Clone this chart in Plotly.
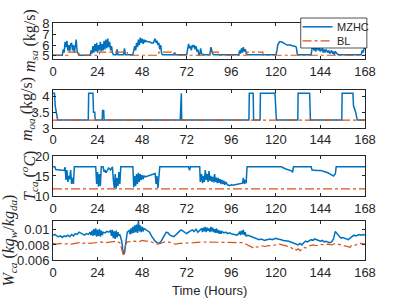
import plotly.graph_objects as go

# ---------------- data ----------------
x_ticks = [0, 24, 48, 72, 96, 120, 144, 168]

msa_mzhc_t = [0, 5, 5.5, 6, 6.5, 7, 7.5, 8, 8.5, 9, 9.5, 10, 10.5, 11, 11.5, 12, 12.5, 13, 13.5, 14,
              20, 20.5, 21, 21.5, 22, 22.5, 23, 23.5, 24, 24.5, 25, 25.5, 26, 26.5, 27, 27.5, 28, 28.5, 29, 29.5,
              30, 30.5, 31, 31.5, 32, 32.5, 34, 34.5, 35, 38, 38.5, 39, 43, 43.5, 44, 44.5, 45, 45.5, 46, 46.5,
              47, 47.5, 48, 48.5, 49, 49.5, 50, 51, 52, 53, 54, 55, 55.5, 56, 56.5, 57, 57.5, 58, 58.5, 59,
              65, 65.5, 66, 72, 72.5, 73, 73.5, 74, 74.5, 75, 75.5, 76, 76.5, 77, 77.5, 78, 78.5, 79, 79.5, 80,
              81, 84.5, 85, 85.5, 86, 86.5, 100, 100.5, 101, 101.5, 102, 102.5, 103, 103.5, 104, 104.5,
              120, 120.5, 121, 122, 123, 124, 125, 126, 127, 128, 129, 130, 131, 131.5, 132,
              139, 139.5, 140, 140.5, 141, 141.5, 142, 143, 143.5, 144, 145, 145.5, 146, 146.5, 147, 148, 148.5,
              149, 150, 150.5, 151, 151.5, 152, 153, 153.5, 166, 166.5, 167, 167.5, 168]
msa_mzhc_v = [5.05, 5.05, 5.6, 5.3, 6.3, 5.8, 6.4, 5.5, 6.0, 5.4, 6.1, 6.2, 5.5, 6.0, 5.3, 6.3, 6.5, 5.4, 5.1, 5.05,
              5.05, 5.5, 5.2, 5.9, 5.3, 6.1, 5.4, 6.2, 5.3, 6.0, 5.5, 6.3, 5.4, 6.1, 5.5, 6.4, 5.6, 6.5, 5.7, 6.6,
              5.8, 6.3, 5.5, 5.9, 5.3, 5.1, 5.1, 5.6, 5.1, 5.1, 5.7, 5.1, 5.1, 5.6, 5.9, 5.5, 6.2, 5.8, 6.5, 6.0,
              6.7, 6.2, 6.6, 6.1, 6.5, 6.3, 6.4, 6.3, 6.3, 6.2, 6.2, 6.6, 6.2, 6.4, 6.0, 6.2, 5.6, 6.0, 5.2, 5.1,
              5.1, 5.3, 5.1, 5.1, 5.6, 6.1, 5.7, 5.9, 5.5, 6.0, 5.8, 6.0, 5.6, 5.9, 5.4, 5.6, 5.1, 5.1, 5.7, 5.2,
              5.1, 5.1, 5.8, 5.3, 5.2, 5.1, 5.1, 5.5, 5.2, 5.7, 5.3, 5.8, 5.4, 5.6, 5.2, 5.1,
              5.1, 5.4, 6.0, 6.3, 6.3, 6.2, 6.1, 6.0, 6.0, 6.0, 5.9, 5.9, 5.8, 5.2, 5.1,
              5.1, 5.7, 5.9, 5.5, 5.8, 5.4, 5.8, 5.5, 5.8, 5.4, 5.7, 5.3, 5.6, 5.3, 5.6, 5.3, 5.5,
              5.2, 5.5, 5.2, 5.4, 5.1, 5.4, 5.2, 5.1, 5.1, 5.5, 5.3, 5.7, 5.7]

msa_bl_t = [0, 8, 14, 25, 40, 57, 65, 84, 89, 104, 113, 168]
msa_bl_v = [5.05, 5.35, 5.05, 5.35, 5.05, 5.35, 5.05, 5.35, 5.05, 5.35, 5.05, 5.05]

moa_mzhc_t = [0, 0.8, 1.2, 2.5, 19, 19.2, 21.5, 21.8, 22.5, 22.7, 26.5, 26.7, 27.3, 27.5, 68.5, 68.7, 69.1, 69.3,
              105.5, 105.7, 107.8, 108, 111.5, 111.7, 119.5, 120.3, 131.8, 132, 138.2, 138.6,
              155.5, 155.7, 161.5, 161.8, 163, 163.8, 168]
moa_mzhc_v = [4.1, 4.1, 3.7, 3.25, 3.25, 4.1, 4.1, 3.5, 3.5, 3.25, 3.25, 3.55, 3.55, 3.25, 3.25, 4.1, 4.1, 3.25,
              3.25, 4.1, 4.1, 3.25, 3.25, 4.1, 4.1, 3.25, 3.25, 4.1, 4.1, 3.25,
              3.25, 4.1, 4.1, 3.7, 3.5, 3.25, 3.25]

moa_bl_t = [0, 168]
moa_bl_v = [3.25, 3.25]

tca_mzhc_t = [0, 1, 1.5, 6, 6.5, 7, 7.5, 8, 8.5, 9, 9.5, 10, 10.5, 11, 11.5, 23, 23.5, 24, 24.5, 25, 25.5, 26,
              27, 27.5, 28, 28.5, 29, 30, 31, 32, 32.5, 33, 33.5, 34, 34.5, 35, 35.5, 36, 36.5, 43, 43.5, 44, 44.5,
              45, 45.5, 46, 46.5, 47, 47.5, 48, 48.5, 49, 50, 51, 52, 53, 54, 55, 55.5, 56, 56.5, 57, 57.5,
              73, 73.5, 74, 79, 79.3, 80, 80.5, 81, 81.5, 82, 82.5, 83, 83.5, 84, 84.5, 85, 85.5, 86, 86.5, 87,
              87.5, 88, 88.5, 89, 89.5, 90, 90.5, 91, 91.5, 92, 92.5, 93, 94, 95, 96, 97, 98, 99, 100, 101, 102,
              102.5, 103, 103.5, 104, 104.5, 123, 125, 127, 128.5, 129, 129.5, 139, 139.5, 142, 144, 146, 148,
              150, 151, 152, 152.5, 168]
tca_mzhc_v = [17.3, 17.3, 16.6, 16.4, 17.2, 14.0, 16.5, 13.5, 15.0, 14.2, 16.5, 13.0, 14.5, 13.0, 17.3, 17.3, 13.0,
              16.0, 12.3, 15.5, 12.5, 17.3, 17.3, 16.0, 16.5, 15.8, 16.2, 17.0, 16.5, 17.3, 14.0, 12.0, 15.5, 11.8,
              14.5, 12.5, 16.0, 13.0, 17.3, 17.3, 12.2, 15.0, 12.5, 15.5, 13.0, 15.8, 13.5, 15.5, 14.0, 15.2, 14.2,
              15.0, 14.8, 15.0, 15.2, 15.3, 15.5, 15.6, 13.0, 15.0, 12.0, 14.5, 17.3,
              17.3, 16.4, 17.3, 17.3, 13.5, 15.5, 13.2, 15.0, 13.5, 16.5, 14.0, 15.5, 13.5, 16.2, 13.8, 15.0, 13.6,
              14.8, 13.4, 15.5, 13.5, 14.6, 13.2, 14.5, 13.3, 14.2, 13.0, 14.0, 13.0, 13.8, 12.8, 13.5, 12.8, 12.6,
              12.8, 12.7, 12.8, 12.9, 13.0, 13.0, 13.2, 14.5, 13.0, 14.0, 13.2, 17.3, 17.3, 16.8, 16.5, 16.3, 15.9,
              17.3, 17.3, 16.5, 16.4, 16.4, 16.1, 15.8, 15.3, 15.0, 15.5, 17.3, 17.3]

tca_bl_t = [0, 168]
tca_bl_v = [11.8, 11.8]

wca_mzhc_t = [0, 1, 2, 3, 4, 5, 6, 7, 8, 9, 10, 11, 12, 13, 14, 15, 16, 17, 18, 19, 20, 20.5, 21, 21.5, 22, 22.5,
              23, 23.5, 24, 24.5, 25, 25.5, 26, 26.5, 27, 28, 29, 30, 31, 31.5, 32, 32.5, 33, 33.5, 34, 34.5, 35,
              35.5, 36, 37, 37.5, 38, 38.5, 39, 39.5, 40, 41, 41.5, 42, 42.5, 43, 43.5, 44, 44.5, 45, 45.5, 46,
              46.5, 47, 47.5, 48, 48.5, 49, 50, 51, 52, 53, 54, 55, 56, 57, 58, 59, 60, 61, 62, 63, 64, 65, 66,
              67, 68, 69, 70, 71, 72, 73, 74, 75, 76, 77, 78, 79, 80, 80.5, 81, 81.5, 82, 82.5, 83, 83.5, 84,
              84.5, 85, 85.5, 86, 86.5, 87, 87.5, 88, 88.5, 89, 89.5, 90, 90.5, 91, 92, 93, 94, 95, 96, 97, 98,
              99, 100, 100.5, 101, 101.5, 102, 102.5, 103, 103.5, 104, 105, 106, 107, 108, 109, 110, 111, 112,
              113, 114, 115, 116, 117, 118, 119, 120, 121, 122, 123, 124, 125, 126, 127, 128, 129, 130, 131, 132,
              133, 134, 135, 136, 137, 138, 139, 140, 141, 142, 143, 144, 145, 146, 147, 148, 149, 150, 151, 152,
              153, 154, 155, 156, 157, 158, 159, 160, 161, 162, 163, 164, 165, 166, 167, 168]
wca_mzhc_v = [0.0093, 0.0094, 0.0092, 0.0091, 0.0092, 0.0090, 0.0092, 0.0091, 0.0093, 0.0091, 0.0094, 0.0092,
              0.0095, 0.0094, 0.0097, 0.0096, 0.0094, 0.0093, 0.0095, 0.0094, 0.0097, 0.0093, 0.0099, 0.0092,
              0.0101, 0.0093, 0.0102, 0.0091, 0.0100, 0.0092, 0.0101, 0.0091, 0.0099, 0.0093, 0.0097, 0.0096,
              0.0098, 0.0097, 0.0099, 0.0092, 0.0100, 0.0089, 0.0098, 0.0088, 0.0099, 0.0090, 0.0097, 0.0092,
              0.0094, 0.0085, 0.0075, 0.0067, 0.0070, 0.0082, 0.0092, 0.0097, 0.0099, 0.0094, 0.0102, 0.0095,
              0.0104, 0.0096, 0.0106, 0.0097, 0.0107, 0.0096, 0.0112, 0.0098, 0.0106, 0.0097, 0.0104, 0.0098,
              0.0102, 0.0100, 0.0099, 0.0097, 0.0092, 0.0088, 0.0085, 0.0083, 0.0082, 0.0084, 0.0089, 0.0094,
              0.0097, 0.0096, 0.0093, 0.0092, 0.0091, 0.0093, 0.0096, 0.0098, 0.0100, 0.0098, 0.0097, 0.0095,
              0.0097, 0.0099, 0.0100, 0.0098, 0.0101, 0.0097, 0.0099, 0.0102, 0.0097, 0.0103, 0.0098, 0.0104,
              0.0097, 0.0103, 0.0099, 0.0102, 0.0097, 0.0104, 0.0098, 0.0103, 0.0097, 0.0101, 0.0096, 0.0102,
              0.0096, 0.0100, 0.0095, 0.0099, 0.0095, 0.0098, 0.0096, 0.0097, 0.0095, 0.0096, 0.0095, 0.0094,
              0.0094, 0.0093, 0.0095, 0.0098, 0.0093, 0.0099, 0.0094, 0.0100, 0.0093, 0.0097, 0.0092, 0.0093,
              0.0092, 0.0091, 0.0090, 0.0089, 0.0087, 0.0087, 0.0088, 0.0087, 0.0086, 0.0087, 0.0088, 0.0088,
              0.0087, 0.0088, 0.0089, 0.0088, 0.0088, 0.0087, 0.0086, 0.0086, 0.0085, 0.0085, 0.0084, 0.0083,
              0.0082, 0.0081, 0.0080, 0.0082, 0.0080, 0.0083, 0.0085, 0.0084, 0.0086, 0.0087, 0.0086, 0.0088,
              0.0087, 0.0086, 0.0085, 0.0086, 0.0084, 0.0085, 0.0084, 0.0083, 0.0084, 0.0088, 0.0098, 0.0095,
              0.0091, 0.0089, 0.0090, 0.0089, 0.0088, 0.0087, 0.0089, 0.0091, 0.0093, 0.0092, 0.0093, 0.0094,
              0.0093, 0.0094, 0.0093]

wca_bl_t = [0, 2, 4, 6, 8, 10, 12, 14, 16, 18, 20, 22, 24, 26, 28, 30, 32, 34, 36, 37, 38, 38.5, 39, 40, 42, 44,
            46, 48, 50, 52, 54, 56, 58, 60, 62, 64, 66, 68, 70, 72, 76, 80, 84, 88, 92, 96, 100, 102, 104, 106,
            108, 109, 110, 112, 114, 116, 118, 120, 122, 124, 126, 128, 129, 130, 131, 132, 133, 134, 135, 136,
            138, 140, 142, 144, 146, 148, 150, 152, 154, 156, 158, 160, 161, 162, 164, 166, 168]
wca_bl_v = [0.0082, 0.0081, 0.0082, 0.0081, 0.0082, 0.0081, 0.0082, 0.0083, 0.0082, 0.0083, 0.0082, 0.0083,
            0.0083, 0.0084, 0.0083, 0.0084, 0.0084, 0.0085, 0.0083, 0.0076, 0.0066, 0.0068, 0.0080, 0.0084,
            0.0085, 0.0085, 0.0084, 0.0086, 0.0085, 0.0085, 0.0083, 0.0081, 0.0082, 0.0084, 0.0084, 0.0082,
            0.0081, 0.0082, 0.0082, 0.0083, 0.0083, 0.0084, 0.0084, 0.0084, 0.0084, 0.0084, 0.0084, 0.0083,
            0.0081, 0.0079, 0.0076, 0.0078, 0.0077, 0.0079, 0.0078, 0.0079, 0.0080, 0.0080, 0.0081, 0.0080,
            0.0079, 0.0077, 0.0075, 0.0076, 0.0073, 0.0075, 0.0072, 0.0075, 0.0077, 0.0076, 0.0079, 0.0080,
            0.0079, 0.0081, 0.0080, 0.0081, 0.0080, 0.0082, 0.0081, 0.0080, 0.0079, 0.0077, 0.0080, 0.0079,
            0.0081, 0.0082, 0.0081]

y_titles = ["<i>m<sub>sa</sub></i> (kg/s)", "<i>m<sub>oa</sub></i> (kg/s)",
            "<i>T<sub>ca</sub></i> (<sup><i>o</i></sup><i>C</i>)",
            "<i>W<sub>ca</sub></i> (<i>kg<sub>w</sub></i>/<i>kg<sub>da</sub></i>)"]
y_tickvals = [[5, 6, 7, 8], [3, 3.5, 4], [10, 15, 20], [0.006, 0.008, 0.01]]
y_ticktext = [["5", "6", "7", "8"], ["3", "3.5", "4"], ["10", "15", "20"], ["0.006", "0.008", "0.01"]]
y_ranges = [[4.7, 8.05], [3, 4.2], [10, 20], [0.006, 0.0112]]
x_title = "Time (Hours)"
names = ["MZHC", "BL"]

# ---------------- figure ----------------
BLUE = "#0072BD"
ORANGE = "#D95319"
AX = "#262626"
SANS = "Liberation Sans, Arial"
SERIF = "Liberation Serif, serif"

domains = [[0.848, 1.0], [0.557, 0.717], [0.270, 0.439], [0.0, 0.165]]
title_x = [-0.0737, -0.0833, -0.0769, -0.141]   # paper x of the rotated y titles
series = [(msa_mzhc_t, msa_mzhc_v, msa_bl_t, msa_bl_v, "hv"),
          (moa_mzhc_t, moa_mzhc_v, moa_bl_t, moa_bl_v, "linear"),
          (tca_mzhc_t, tca_mzhc_v, tca_bl_t, tca_bl_v, "linear"),
          (wca_mzhc_t, wca_mzhc_v, wca_bl_t, wca_bl_v, "linear")]

fig = go.Figure()
for i, (mt, mv, bt, bv, bshape) in enumerate(series):
    k = "" if i == 0 else str(i + 1)
    fig.add_trace(go.Scatter(x=mt, y=mv, mode="lines", name=names[0], showlegend=False,
                             line=dict(color=BLUE, width=1.5), xaxis="x" + k, yaxis="y" + k))
    fig.add_trace(go.Scatter(x=bt, y=bv, mode="lines", name=names[1], showlegend=False,
                             line=dict(color=ORANGE, width=1.2, dash="dashdot", shape=bshape),
                             xaxis="x" + k, yaxis="y" + k))
    axis_common = dict(showline=True, linecolor=AX, linewidth=0.8, mirror="allticks", ticks="inside",
                       ticklen=3, tickcolor=AX, showgrid=False, zeroline=False, automargin=False,
                       tickfont=dict(family=SANS, size=13, color=AX))
    fig.layout["xaxis" + k] = dict(axis_common, domain=[0, 1], range=[0, 168], tickvals=x_ticks,
                                   anchor="y" + k)
    fig.layout["yaxis" + k] = dict(axis_common, domain=domains[i], range=y_ranges[i],
                                   tickvals=y_tickvals[i], ticktext=y_ticktext[i], anchor="x" + k)
    fig.add_annotation(xref="paper", yref="paper", x=title_x[i], y=sum(domains[i]) / 2,
                       text=y_titles[i], textangle=-90, showarrow=False,
                       xanchor="center", yanchor="middle",
                       font=dict(family=SERIF, size=16, color=AX))

fig.add_annotation(xref="paper", yref="paper", x=0.5, y=-0.127, text=x_title, showarrow=False,
                   xanchor="center", yanchor="middle", font=dict(family=SANS, size=13, color=AX))

# legend box (drawn in paper coordinates, top-right of first panel)
leg = dict(x0=0.794, x1=1.006, y0=0.8945, y1=1.021)
rows_y = [0.984, 0.925]
fig.add_shape(type="rect", xref="paper", yref="paper", x0=leg["x0"], x1=leg["x1"], y0=leg["y0"], y1=leg["y1"],
              fillcolor="white", line=dict(color=AX, width=0.8), layer="above")
styles = [dict(color=BLUE, width=1.5), dict(color=ORANGE, width=1.2, dash="dashdot")]
for name, ry, st in zip(names, rows_y, styles):
    fig.add_shape(type="line", xref="paper", yref="paper", x0=0.800, x1=0.896, y0=ry, y1=ry,
                  line=st, layer="above")
    fig.add_annotation(xref="paper", yref="paper", x=0.904, y=ry, text=name, showarrow=False,
                       xanchor="left", yanchor="middle", font=dict(family=SANS, size=11, color=AX))

fig.update_layout(
    template="none",
    width=403, height=302,
    margin=dict(l=53, r=38, t=23, b=42, autoexpand=False),
    paper_bgcolor="white", plot_bgcolor="white",
    font=dict(family=SANS, size=13, color=AX),
    showlegend=False,
)

# remove the browser's default 8px body margin so the figure sits at the window origin
fig.write_html("out.html", config={"displayModeBar": False},
               post_script="document.body.style.margin='0px';")
